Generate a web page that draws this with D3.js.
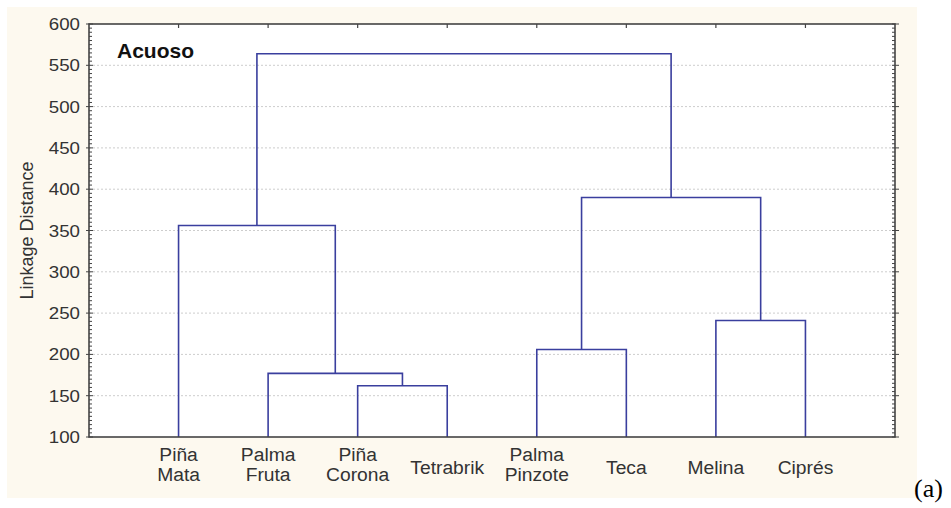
<!DOCTYPE html>
<html>
<head>
<meta charset="utf-8">
<script src="https://cdn.jsdelivr.net/npm/d3@7"></script>
<style>
  html, body { margin: 0; padding: 0; background: #fff; }
  svg { display: block; }
</style>
</head>
<body>
<div id="chart"></div>
<script>
// Dendrograma "Acuoso" — enlace jerárquico, 8 hojas
const LEAVES = [
  ["Piña", "Mata"], ["Palma", "Fruta"], ["Piña", "Corona"], ["Tetrabrik"],
  ["Palma", "Pinzote"], ["Teca"], ["Melina"], ["Ciprés"],
];
// [a, b, altura]; índices < 8 son hojas, >= 8 son clusters previos (8 + fila)
const MERGES = [
  [2, 3, 162],
  [1, 8, 177],
  [4, 5, 206],
  [6, 7, 241],
  [0, 9, 356],
  [10, 11, 390],
  [12, 13, 564],
];
const Y_TICKS = [100, 150, 200, 250, 300, 350, 400, 450, 500, 550, 600];
const Y_TITLE = "Linkage Distance";
const PANEL = "Acuoso";
const TAG = "(a)";

const W = 951, H = 508;
const ML = 89, MR = 895, TOP = 24, BOT = 437;
const INK = "#333", LINK = "#3a3f9e", FONT = "'Liberation Sans', Arial, sans-serif";

const x = d3.scaleLinear().domain([0, LEAVES.length + 1]).range([ML, MR]);
const y = d3.scaleLinear().domain([100, 600]).range([BOT, TOP]);

const svg = d3.select("#chart").append("svg")
  .attr("width", W).attr("height", H).attr("viewBox", `0 0 ${W} ${H}`);

// texto algo ensanchado, como en el escaneo
const label = (tx, ty, str, size, anchor, sx, extra = "") =>
  svg.append("text")
    .attr("transform", `translate(${tx},${ty}) scale(${sx},1)`)
    .attr("text-anchor", anchor)
    .attr("style", `font:${extra}${size}px ${FONT};fill:${INK}`)
    .text(str);

// fondo crema del recorte
svg.append("rect").attr("x", 7).attr("y", 7).attr("width", 910).attr("height", 491)
  .attr("fill", "#fdf9ef");
svg.append("rect").attr("x", ML).attr("y", TOP).attr("width", MR - ML).attr("height", BOT - TOP)
  .attr("fill", "#fff");

// rejilla punteada
Y_TICKS.slice(1, -1).forEach(v => {
  svg.append("line").attr("x1", ML).attr("x2", MR).attr("y1", y(v)).attr("y2", y(v))
    .attr("stroke", "#cdcdcd").attr("stroke-width", 1).attr("stroke-dasharray", "2 2");
});

// etiquetas del eje Y
Y_TICKS.forEach(v => label(ML - 9, y(v) + 6, v, 17, "end", 1.1));

// marcas menores / mayores en ambos lados
const minor = d3.range(100, 601, 5);
minor.forEach(v => {
  const major = v % 50 === 0;
  svg.append("line").attr("x1", ML - (major ? 3 : 0)).attr("x2", ML + (major ? 4 : 3))
    .attr("y1", y(v)).attr("y2", y(v)).attr("stroke", "#444").attr("stroke-width", 1);
  svg.append("line").attr("x1", MR - 3).attr("x2", MR + (major ? 4 : 0))
    .attr("y1", y(v)).attr("y2", y(v)).attr("stroke", "#444").attr("stroke-width", 1);
});
// marcas superiores en cada hoja
LEAVES.forEach((d, i) => {
  svg.append("line").attr("x1", x(i + 1)).attr("x2", x(i + 1))
    .attr("y1", TOP).attr("y2", TOP + 4).attr("stroke", "#444").attr("stroke-width", 1.2);
});

// dendrograma
const nodes = LEAVES.map((d, i) => ({ x: x(i + 1), y: y(100) }));
MERGES.forEach(([a, b, h]) => {
  const A = nodes[a], B = nodes[b], yy = y(h);
  svg.append("path")
    .attr("d", `M${A.x},${A.y}V${yy}H${B.x}V${B.y}`)
    .attr("fill", "none").attr("stroke", LINK).attr("stroke-width", 1.6);
  nodes.push({ x: (A.x + B.x) / 2, y: yy });
});

// marco del área de trazado
svg.append("rect").attr("x", ML).attr("y", TOP).attr("width", MR - ML).attr("height", BOT - TOP)
  .attr("fill", "none").attr("stroke", "#444").attr("stroke-width", 1.6);

// etiquetas de hojas
LEAVES.forEach((lines, i) => {
  if (lines.length === 1) label(x(i + 1), 474, lines[0], 18, "middle", 1.07);
  else lines.forEach((s, k) => label(x(i + 1), 461 + k * 20, s, 18, "middle", 1.07));
});

// título del eje Y
svg.append("text").attr("transform", `translate(33,${(TOP + BOT) / 2}) rotate(-90)`)
  .attr("text-anchor", "middle").attr("style", `font:18px ${FONT};fill:${INK}`).text(Y_TITLE);

// rótulo del panel
svg.append("text").attr("x", 117).attr("y", 58)
  .attr("style", `font:bold 21px ${FONT};fill:#111`).text(PANEL);

svg.append("text").attr("x", 914).attr("y", 497)
  .attr("style", "font:26px 'Liberation Serif', 'Times New Roman', serif;fill:#000").text(TAG);
</script>
</body>
</html>
